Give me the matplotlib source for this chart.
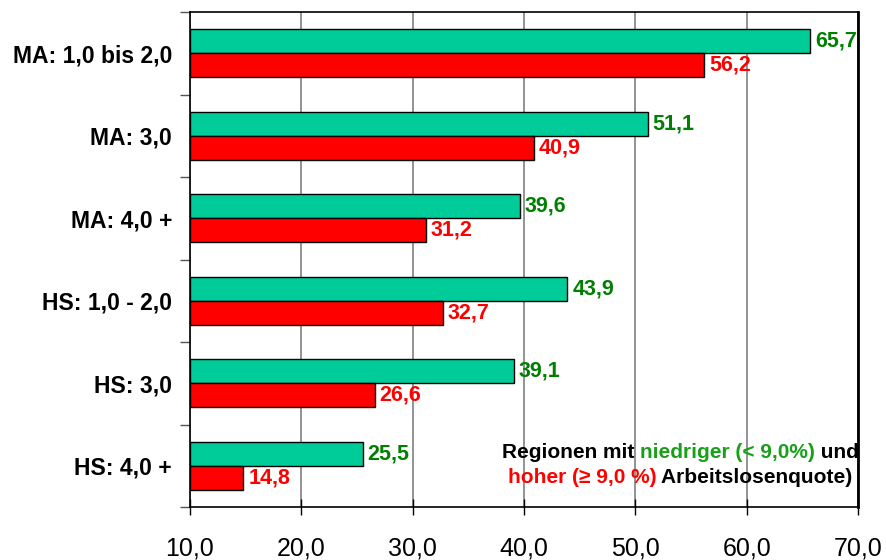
import numpy as np
import matplotlib.pyplot as plt
from matplotlib.offsetbox import TextArea, HPacker, VPacker, AnchoredOffsetbox
from matplotlib.ticker import FixedLocator

plt.rcParams['font.family'] = ['Liberation Sans', 'DejaVu Sans']

categories = ["MA: 1,0 bis 2,0", "MA: 3,0", "MA: 4,0 +",
              "HS: 1,0 - 2,0", "HS: 3,0", "HS: 4,0 +"]
low_unemp = [65.7, 51.1, 39.6, 43.9, 39.1, 25.5]
high_unemp = [56.2, 40.9, 31.2, 32.7, 26.6, 14.8]
xticks = [10, 20, 30, 40, 50, 60, 70]

base = 10.0
bar_h = 0.29
green_fill = '#00CC99'
red_fill = '#FF0000'
green_txt = '#008000'

fig = plt.figure(figsize=(8.87, 5.6), dpi=100)
ax = fig.add_axes([190/887, 1 - 507/560, (858-190)/887, (507-12)/560])

y = np.arange(len(categories))
ax.barh(y - bar_h/2, np.array(low_unemp) - base, left=base, height=bar_h,
        color=green_fill, edgecolor='black', linewidth=1, zorder=3)
ax.barh(y + bar_h/2, np.array(high_unemp) - base, left=base, height=bar_h,
        color=red_fill, edgecolor='black', linewidth=1, zorder=3)

def fmt(v):
    return f"{v:.1f}".replace('.', ',')

for i in range(len(categories)):
    ax.annotate(fmt(low_unemp[i]), (low_unemp[i], y[i] - bar_h/2), xytext=(3.5, 0),
                textcoords='offset points', va='center', ha='left',
                fontsize=15.5, fontweight='bold', color=green_txt, zorder=4)
    ax.annotate(fmt(high_unemp[i]), (high_unemp[i], y[i] + bar_h/2), xytext=(3.5, 0),
                textcoords='offset points', va='center', ha='left',
                fontsize=15.5, fontweight='bold', color=red_fill, zorder=4)

ax.set_xlim(10, 70)
ax.set_ylim(len(categories) - 0.5, -0.5)

ax.set_xticks(xticks)
ax.set_xticklabels([fmt(t) for t in xticks], fontsize=18)
ax.tick_params(axis='x', direction='inout', length=12, width=1, pad=15, color='black')
ax.xaxis.grid(True, color='#808080', linewidth=1.2, zorder=0)

ax.set_yticks(y)
ax.set_yticklabels(categories, fontsize=16.5, fontweight='bold')
ax.tick_params(axis='y', which='major', length=0, pad=13)
ax.yaxis.set_minor_locator(FixedLocator(np.arange(-0.5, len(categories), 1.0)))
ax.tick_params(axis='y', which='minor', length=7, width=1, color='#555555', direction='out')

for s in ['left', 'bottom', 'top']:
    ax.spines[s].set_linewidth(1.2)
    ax.spines[s].set_color('black')
ax.spines['right'].set_linewidth(2)
ax.spines['right'].set_zorder(5)

# two-colour legend text
fs = 15
def piece(t, c):
    return TextArea(t, textprops=dict(color=c, fontsize=fs, fontweight='bold'))

line1 = HPacker(children=[piece("Regionen mit ", 'black'),
                          piece("niedriger (< 9,0%)", '#18A018'),
                          piece(" und", 'black')], align='baseline', pad=0, sep=0)
line2 = HPacker(children=[piece("hoher (\u2265 9,0 %)", red_fill),
                          piece(" Arbeitslosenquote)", 'black')], align='baseline', pad=0, sep=0)
box = VPacker(children=[line1, line2], align='center', pad=0, sep=5)
anch = AnchoredOffsetbox(loc='center', child=box, frameon=False,
                         bbox_to_anchor=(680/887, 1 - 465/560),
                         bbox_transform=fig.transFigure, borderpad=0)
anch.set_zorder(6)
ax.add_artist(anch)

fig.savefig('out.png', dpi=100)
